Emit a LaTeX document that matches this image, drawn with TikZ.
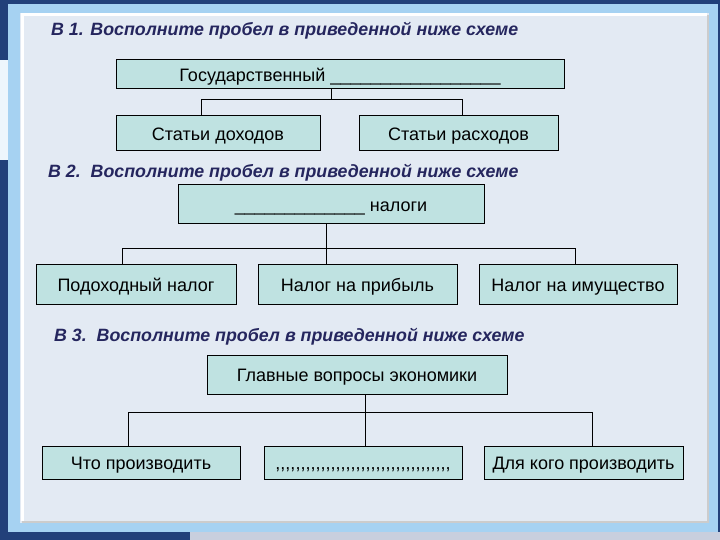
\documentclass[tikz,border=0pt]{standalone}
\usepackage{fontspec}
\setmainfont{Liberation Sans}
\usepackage{tikz}
\usetikzlibrary{positioning}
\definecolor{slideblue}{HTML}{22407A}
\definecolor{framebl}{HTML}{A6D2F2}
\definecolor{panel}{HTML}{E3EAF3}
\definecolor{boxfill}{HTML}{BFE2E1}
\definecolor{titleink}{HTML}{25265E}
\newcommand\blank[1]{\foreach\i in {1,...,#1}{\_}}
\newcommand\commas[1]{\foreach\i in {1,...,#1}{{,}}}

\begin{document}
\begin{tikzpicture}[x=1pt, y=-1pt,
    every node/.style={font=\fontsize{18}{20}\selectfont},
    box/.style={draw, line width=1pt, fill=boxfill, minimum height=#1, inner sep=0pt,
      text height=14.5pt, text depth=0pt},
    box/.default=35,
    task/.style={anchor=west, inner sep=0pt, text=titleink, font=\fontsize{17.8}{20}\selectfont\bfseries\itshape},
    link/.style={line width=1pt}]
  \useasboundingbox (0,0) rectangle (720,540);
  \fill[slideblue] (0,0) rectangle (720,540);
  \fill[white!80!framebl] (0,60) rectangle (8,160);
  \fill[white!75!slideblue] (190,532) rectangle (720,540);
  \fill[framebl] (8,4) rectangle (718,532);
  \fill[panel] (20,13) rectangle (709,523);
  \draw[white, line width=3pt] (22,521) -- (22,15) -- (707,15);
  \draw[black!20, line width=2pt] (22,522) -- (708,522) -- (708,15);

  \node[task] (t1) at (51,31) {В 1. Восполните пробел в приведенной ниже схеме};
  \node[box=29, minimum width=448] (gov) at (340,74.5) {Государственный \blank{17}};
  \node[box, minimum width=204] (inc) at (218,133.5) {Статьи доходов};
  \node[box, minimum width=199] (exp) at (458.5,133.5) {Статьи расходов};
  \coordinate (bus1) at (331.5,99.5);
  \draw[link] (gov.south -| bus1) -- (bus1);
  \draw[link] ([xshift=-17pt]inc.north) |- (bus1) -| ([xshift=4pt]exp.north);

  \node[task] (t2) at (48,173) {В 2.\ \ Восполните пробел в приведенной ниже схеме};
  \node[box=39, minimum width=306] (tax) at (331,204.5) {\blank{13} налоги};
  \node[box=40, minimum width=200] (pit) at (136,284) {Подоходный налог};
  \node[box=40, minimum width=199] (prof) at (357.5,284) {Налог на прибыль};
  \node[box=40, minimum width=198] (prop) at (578,284) {Налог на имущество};
  \coordinate (bus2) at (326.5,248.5);
  \draw[link] (tax.south -| bus2) -- (prof.north -| bus2);
  \draw[link] ([xshift=-14pt]pit.north) |- (bus2) -| ([xshift=-3pt]prop.north);

  \node[task] (t3) at (54,337) {В 3.\ \ Восполните пробел в приведенной ниже схеме};
  \node[box=39, minimum width=300] (main) at (357,374.5) {Главные вопросы экономики};
  \node[box=33, minimum width=198] (what) at (141,462.5) {Что производить};
  \node[box=33, minimum width=198] (how) at (363,462.5) {\commas{35}};
  \node[box=33, minimum width=199] (whom) at (583.5,462.5) {Для кого производить};
  \coordinate (bus3) at (365.5,412.5);
  \draw[link] (main.south -| bus3) -- (how.north -| bus3);
  \draw[link] ([xshift=-13pt]what.north) |- (bus3) -| ([xshift=9pt]whom.north);
\end{tikzpicture}
\end{document}
